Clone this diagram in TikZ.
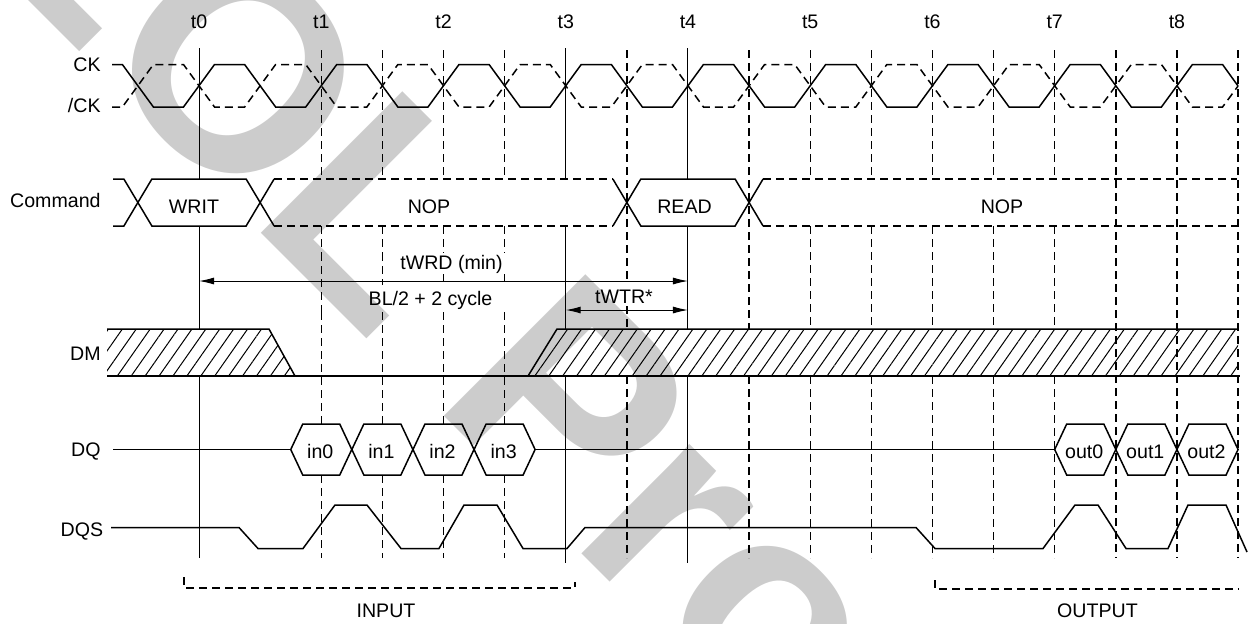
\documentclass[tikz,border=0pt]{standalone}
\usepackage{fontspec}
\setmainfont{Liberation Sans}
\usetikzlibrary{arrows.meta, patterns.meta}

\definecolor{mark-gray}{RGB}{204, 204, 204}

\begin{document}
\begin{tikzpicture}[
        x=0.5pt, y=-0.5pt,
        declare function={gx(\k)=199+61.12*\k;},
        sig/.style={line width=0.75pt},
        sigdash/.style={sig, dash pattern=on 4pt off 2.5pt},
        gridline/.style={line width=0.5pt},
        griddash/.style={line width=0.7pt, dash pattern=on 4pt off 2.5pt},
        dim/.style={line width=0.5pt, >={Latex[length=7.5pt,width=3.5pt]}, <->},
        hatch/.style={pattern={Lines[angle=55, distance=5.7pt, line width=0.5pt]}},
        lbl/.style={inner sep=0pt, text height=7pt, text depth=0pt, font=\fontsize{9.8}{12}\selectfont},
        signame/.style={lbl, anchor=east},
        watermark/.style={anchor=base west, rotate=-45, inner sep=0pt, text=mark-gray,
            font=\fontsize{145.5}{146}\selectfont\bfseries},
    ]
    \useasboundingbox (0,0) rectangle (1251,623);
    \begin{scope}
        \clip (0,0) rectangle (1251,623);
        \node[watermark] (eol) at (-50,-78) {EOL Product};
    \end{scope}

    \node[signame] (ck) at (101,64.5) {CK};
    \node[signame] (nck) at (101,105) {/CK};
    \node[signame] (cmd) at (101,200) {Command};
    \node[signame] (dm) at (101,353) {DM};
    \node[signame] (dq) at (101,449.5) {DQ};
    \node[signame] (dqs) at (103.5,529) {DQS};
    \foreach \i in {0,...,8}
        \node[lbl] (t\i) at ({gx(2*\i)},21) {t\i};

    \foreach \k in {2,...,5}
        \draw[griddash] ({gx(\k)},50) -- ({gx(\k)},179) ({gx(\k)},226) -- ({gx(\k)},253)
            ({gx(\k)},312) -- ({gx(\k)},424) ({gx(\k)},475) -- ({gx(\k)},558);
    \foreach \k/\ya/\yb in {2/253/312,3/253/285,4/274/285,5/274/285}
        \draw[griddash] ({gx(\k)},\ya) -- ({gx(\k)},\yb);
    \foreach \k in {10,...,14}
        \draw[griddash] ({gx(\k)},50) -- ({gx(\k)},179) ({gx(\k)},226) -- ({gx(\k)},329)
            ({gx(\k)},376) -- ({gx(\k)},558);
    \draw[griddash] ({gx(7)},50) -- ({gx(7)},283) ({gx(7)},306) -- ({gx(7)},329)
        ({gx(7)},376) -- ({gx(7)},558);
    \draw[griddash] ({gx(9)},50) -- ({gx(9)},329) ({gx(9)},376) -- ({gx(9)},558);
    \foreach \k in {15,16,17}
        \draw[griddash] ({gx(\k)},50) -- ({gx(\k)},558);
    \foreach \k/\yb in {0/558,6/563,8/563}
        \draw[gridline] ({gx(\k)},48) -- ({gx(\k)},179) ({gx(\k)},226) -- ({gx(\k)},329)
            ({gx(\k)},376) -- ({gx(\k)},\yb);

    \draw[sig] (112,64.5) \foreach \k in {-1,1,...,15} {
            -- ({gx(\k)-15.5},64.5) -- ({gx(\k)+15.5},107)
            -- ({gx(\k+1)-15.5},107) -- ({gx(\k+1)+15.5},64.5)}
        -- ({gx(17)-15.5},64.5) -- ({gx(17)},86);
    \draw[sigdash] (112,107) \foreach \k in {-1,1,...,15} {
            -- ({gx(\k)-15.5},107) -- ({gx(\k)+15.5},64.5)
            -- ({gx(\k+1)-15.5},64.5) -- ({gx(\k+1)+15.5},107)}
        -- ({gx(17)-15.5},107) -- ({gx(17)},86);

    \foreach \ya/\yb in {179/226,226/179} {
        \draw[sig] (113,\ya) -- ({gx(-1)-14},\ya) -- ({gx(-1)+14},\yb) -- ({gx(1)-14},\yb)
            -- ({gx(1)+14},\ya);
        \draw[sig] ({gx(7)-14},\ya) -- ({gx(7)+14},\yb) -- ({gx(9)-14},\yb) -- ({gx(9)+14},\ya);
        \draw[sigdash] ({gx(1)+14},\ya) -- ({gx(7)-14},\ya);
        \draw[sigdash] ({gx(9)+14},\ya) -- (1237,\ya);
    }
    \node[lbl] (writ) at (194,206) {WRIT};
    \node[lbl] (nop-a) at (429,206) {NOP};
    \node[lbl] (read) at (684.5,206) {READ};
    \node[lbl] (nop-b) at (1002,206) {NOP};

    \coordinate (wrd-l) at ({gx(0)},281);
    \coordinate (wrd-r) at ({gx(8)},281);
    \coordinate (wtr-l) at ({gx(6)},310);
    \coordinate (wtr-r) at ({gx(8)},310);
    \draw[dim] (wrd-l) -- (wrd-r);
    \draw[dim] (wtr-l) -- (wtr-r);
    \node[lbl] (twrd) at (451.5,262) {tWRD (min)};
    \node[lbl] (bl) at (430.5,298) {BL/2 + 2 cycle};
    \node[lbl] (twtr) at (624,296.5) {tWTR*};

    \path[hatch] (107,329) -- (269,329) -- (295,376) -- (107,376) -- cycle;
    \path[hatch] (528,376) -- (557,329) -- (1238,329) -- (1238,376) -- cycle;
    \draw[sig] (107,329) -- (269,329) -- (295,376);
    \draw[sig] (528,376) -- (557,329) -- (1238,329);
    \draw[sig] (107,376) -- (1240,376);

    \draw[sig] (113,449.5) -- ({gx(2)-30.5},449.5);
    \draw[sig] ({gx(5)+30.5},449.5) -- ({gx(14)},449.5);
    \foreach \k/\txt in {2/in0,3/in1,4/in2,5/in3} {
        \draw[sig] ({gx(\k)-30.5},449.5) -- ({gx(\k)-18.5},424) -- ({gx(\k)+18.5},424)
            -- ({gx(\k)+30.5},449.5) -- ({gx(\k)+18.5},475) -- ({gx(\k)-18.5},475) -- cycle;
        \node[lbl] (\txt) at ({gx(\k)-1},451.5) {\txt};
    }
    \foreach \k/\txt in {14/out0,15/out1,16/out2} {
        \draw[sig] ({gx(\k)},449.5) -- ({gx(\k)+12},424) -- ({gx(\k+1)-12},424)
            -- ({gx(\k+1)},449.5) -- ({gx(\k+1)-12},475) -- ({gx(\k)+12},475) -- cycle;
        \node[lbl] (\txt) at ({gx(\k)+29.5},451.5) {\txt};
    }

    \draw[sig] (111,527.5) -- (239,527.5) -- (258,548.5) -- (303,548.5) -- (335,505)
        -- (367,505) -- (401,548.5) -- (439,548.5) -- (464,505) -- (497,505) -- (523,548.5)
        -- (567,548.5) -- (585,527.5) -- (916,527.5) -- (935,548.5) -- (1043,548.5)
        -- (1075,505) -- (1098,505) -- (1126,548.5) -- (1168,548.5) -- (1188,505)
        -- (1226,505) -- (1247,552);

    \draw[griddash] (184,577) -- (184,588) -- (575,588) -- (575,582);
    \draw[griddash] (935,580) -- (935,589) -- (1239,589);
    \node[lbl] (input) at (386,610.5) {INPUT};
    \node[lbl] (output) at (1097.5,610.5) {OUTPUT};
\end{tikzpicture}
\end{document}
